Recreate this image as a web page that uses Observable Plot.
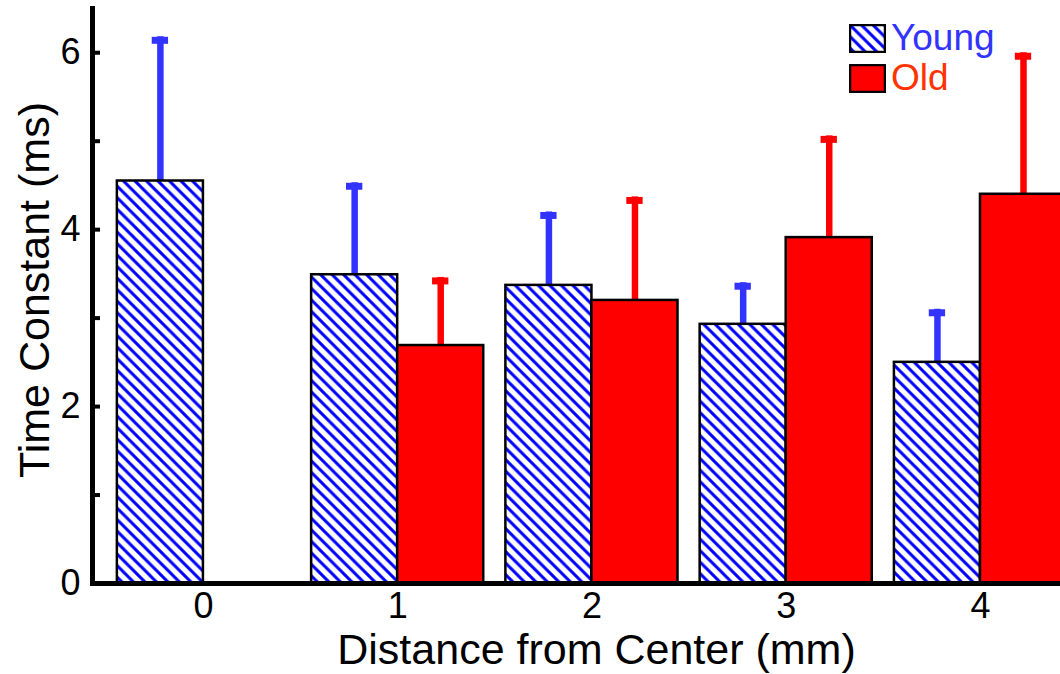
<!DOCTYPE html>
<html>
<head>
<meta charset="utf-8">
<script src="https://cdn.jsdelivr.net/npm/d3@7"></script>
<script src="https://cdn.jsdelivr.net/npm/@observablehq/plot@0.6"></script>
<style>
  html, body { margin: 0; padding: 0; background: white; }
  #wrap { position: relative; width: 1060px; height: 674px; overflow: hidden; font-family: "Liberation Sans", Arial, sans-serif; }
  .legend { position: absolute; left: 849px; top: 18px; font-size: 37px; line-height: 40px; }
  .legend .row { display: flex; align-items: center; height: 40px; }
  .legend svg { margin-right: 5px; display: block; }
</style>
</head>
<body>
<div id="wrap"></div>
<script>
// ---- data ----
const distances = [0, 1, 2, 3, 4];
const youngMean = [4.55, 3.49, 3.37, 2.93, 2.50];
const youngUpper = [6.18, 4.53, 4.20, 3.40, 3.10];
const oldDistances = [1, 2, 3, 4];
const oldMean = [2.69, 3.20, 3.91, 4.40];
const oldUpper = [3.46, 4.37, 5.06, 6.00];
const yLabelTicks = [0, 2, 4, 6];
const yMinorTicks = [0, 1, 2, 3, 4, 5, 6];
const seriesNames = ["Young", "Old"];

const young = distances.map((d, i) => ({dist: d, mean: youngMean[i], upper: youngUpper[i], group: "Young"}));
const old = oldDistances.map((d, i) => ({dist: d, mean: oldMean[i], upper: oldUpper[i], group: "Old"}));

const barW = 0.443;   // bar width in distance units
const capHalf = 0.042;
const blueErr = "#3333ff";
const red = "#ff0000";

const yCenter = d => d.group === "Young" ? d.dist - barW / 2 : d.dist + barW / 2;
const all = young.concat(old);

const plot = Plot.plot({
  width: 1060,
  height: 674,
  marginLeft: 92,
  marginRight: 0,
  marginTop: 8,
  marginBottom: 91,
  style: {fontFamily: "Liberation Sans, Arial, sans-serif", fontSize: "34px", background: "white"},
  x: {domain: [-0.571, 4.412], label: null},
  y: {domain: [0, 6.5], label: null},
  marks: [
    // error bars (stems)
    Plot.ruleX(all, {x: yCenter, y1: "mean", y2: "upper", stroke: d => d.group === "Young" ? blueErr : red, strokeWidth: 6.5}),
    // caps
    Plot.ruleY(all, {y: "upper", x1: d => yCenter(d) - capHalf, x2: d => yCenter(d) + capHalf, stroke: d => d.group === "Young" ? blueErr : red, strokeWidth: 7, dy: 3.5}),
    // bars
    Plot.rectY(young, {x1: d => d.dist - barW, x2: "dist", y1: 0, y2: "mean", fill: "url(#hatch)", stroke: "black", strokeWidth: 2.5, clip: true}),
    Plot.rectY(old, {x1: "dist", x2: d => d.dist + barW, y1: 0, y2: "mean", fill: red, stroke: "black", strokeWidth: 2.5, clip: true}),
    // axes
    Plot.axisY({ticks: yLabelTicks, tickSize: 0, tickPadding: 12, fontSize: 36, tickFormat: d3.format("d"), label: null}),
    Plot.axisY({ticks: yMinorTicks, tickSize: -8, tickFormat: () => "", strokeWidth: 4, label: null}),
    Plot.axisX({ticks: distances, tickSize: 0, tickPadding: 9, fontSize: 36, tickFormat: d3.format("d"), label: null}),
    Plot.frame({anchor: "left", strokeWidth: 5}),
    Plot.frame({anchor: "bottom", strokeWidth: 5}),
    // axis titles
    Plot.text(["Time Constant (ms)"], {frameAnchor: "left", dx: -57, dy: -6, rotate: -90, fontSize: 43, lineAnchor: "middle", textAnchor: "middle"}),
    Plot.text(["Distance from Center (mm)"], {frameAnchor: "bottom", dx: 20, dy: 67, fontSize: 43, lineAnchor: "middle", textAnchor: "middle"})
  ]
});

// enforce tick label font size
d3.select(plot).selectAll("g[aria-label$='tick label']").attr("font-size", 36).style("font-size", "36px");

// hatch pattern
const defs = d3.select(plot).insert("defs", ":first-child");
function addHatch(sel, id) {
  const s = 11.5;
  const p = sel.append("pattern").attr("id", id).attr("patternUnits", "userSpaceOnUse")
    .attr("width", s).attr("height", s);
  p.append("rect").attr("width", s).attr("height", s).attr("fill", "white");
  p.append("path").attr("d", `M0,0L${s},${s}M-3,${s - 3}L3,${s + 3}M${s - 3},-3L${s + 3},3`)
    .attr("stroke", "#0000ff").attr("stroke-width", 3);
}
addHatch(defs, "hatch");

const wrap = document.getElementById("wrap");
wrap.appendChild(plot);

// legend
const legend = d3.select(wrap).append("div").attr("class", "legend");
const colors = {Young: "#3333ff", Old: "#ff3300"};
seriesNames.forEach((name, i) => {
  const row = legend.append("div").attr("class", "row");
  const sw = row.append("svg").attr("width", 37).attr("height", 29);
  if (name === "Young") addHatch(sw.append("defs"), "hatchLegend");
  sw.append("rect").attr("x", 1).attr("y", 1).attr("width", 35).attr("height", 27)
    .attr("fill", name === "Young" ? "url(#hatchLegend)" : red)
    .attr("stroke", "black").attr("stroke-width", 2.5);
  row.append("span").style("color", colors[name]).text(name);
});
</script>
</body>
</html>
